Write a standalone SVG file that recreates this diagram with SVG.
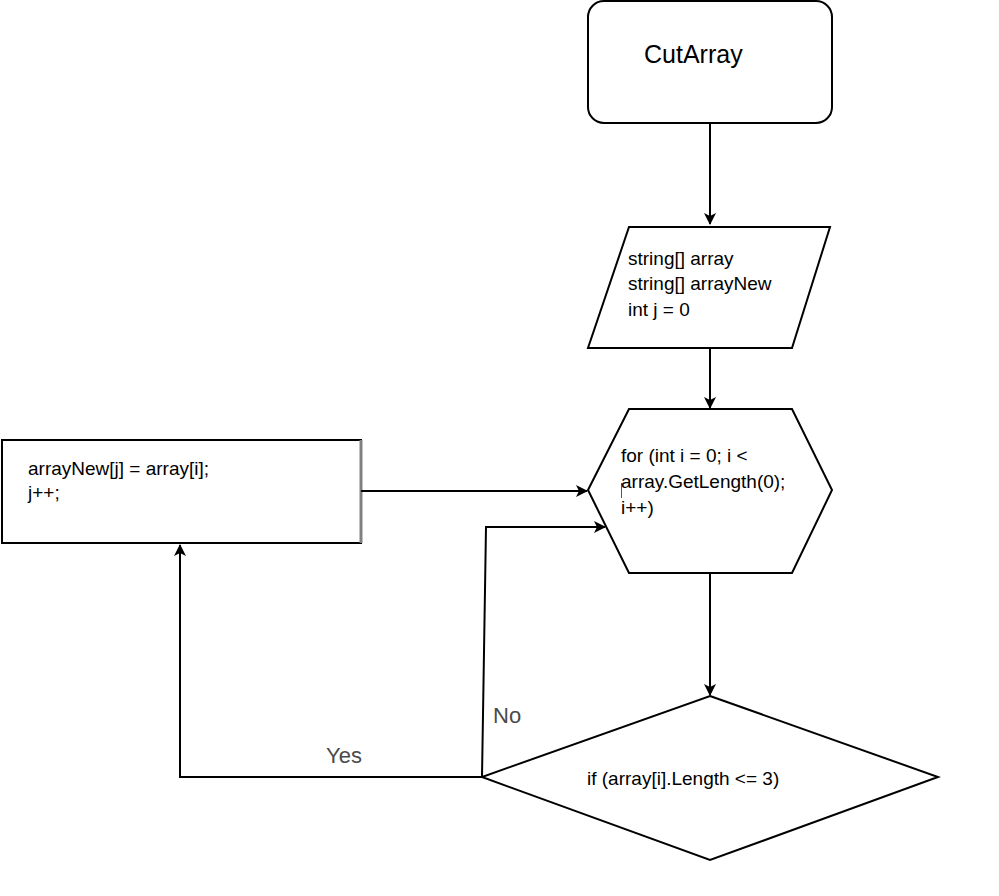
<svg xmlns="http://www.w3.org/2000/svg" width="999" height="896" viewBox="0 0 999 896">
  <style>
    .shape { fill: #ffffff; stroke: #000000; stroke-width: 2; }
    .txt { font-family: "Liberation Sans", Arial, sans-serif; font-size: 19px; fill: #000000; }
    .title { font-family: "Liberation Sans", Arial, sans-serif; font-size: 25px; fill: #000000; }
    .lbl { font-family: "Liberation Sans", Arial, sans-serif; font-size: 22px; fill: #4a4a4a; }
    .conn { fill: none; stroke: #000000; stroke-width: 2; }
  </style>
  <defs>
    <marker id="arrow" viewBox="0 0 12 12" refX="11" refY="6" markerWidth="12" markerHeight="12" markerUnits="userSpaceOnUse" orient="auto">
      <path d="M0,0 L12,6 L0,12 L3,6 z" fill="#000000"/>
    </marker>
  </defs>
  <rect width="999" height="896" fill="#ffffff"/>

  <!-- start terminal -->
  <g id="start">
    <rect class="shape" x="588" y="1" width="244" height="122" rx="16" ry="16"/>
    <text class="title" x="644" y="63">CutArray</text>
  </g>

  <!-- variable declarations -->
  <g id="declare">
    <polygon class="shape" points="629,227 830,227 792,348 588,348"/>
    <text class="txt" x="628" y="265">string[] array</text>
    <text class="txt" x="628" y="290">string[] arrayNew</text>
    <text class="txt" x="628" y="316">int j = 0</text>
  </g>

  <!-- loop header -->
  <g id="loop">
    <polygon class="shape" points="629,409 792,409 832,490 792,573 629,573 588,490"/>
    <text class="txt" x="621" y="462">for (int i = 0; i &lt;</text>
    <line x1="621.5" y1="483" x2="621.5" y2="498" stroke="#555555" stroke-width="1"/>
    <text class="txt" x="621" y="488">array.GetLength(0);</text>
    <text class="txt" x="621" y="514">i++)</text>
  </g>

  <!-- assignment block -->
  <g id="assign">
    <rect class="shape" x="2" y="440" width="359" height="103"/>
    <line x1="361" y1="440" x2="361" y2="543" stroke="#808080" stroke-width="3"/>
    <text class="txt" x="28" y="475">arrayNew[j] = array[i];</text>
    <text class="txt" x="28" y="499">j++;</text>
  </g>

  <!-- length condition -->
  <g id="condition">
    <polygon class="shape" points="710,696 938,777 710,860 482,777"/>
    <text class="txt" x="587" y="785">if (array[i].Length &lt;= 3)</text>
  </g>

  <!-- connectors -->
  <g id="connectors">
    <path class="conn" d="M710,123 V224" marker-end="url(#arrow)"/>
    <path class="conn" d="M710,348 V408" marker-end="url(#arrow)"/>
    <path class="conn" d="M710,573 V695" marker-end="url(#arrow)"/>
    <path class="conn" d="M361,491 H587" marker-end="url(#arrow)"/>
    <path class="conn" d="M482,777 L486,527 H605" marker-end="url(#arrow)"/>
    <path class="conn" d="M482,777 H180 V545" marker-end="url(#arrow)"/>
    <text class="lbl" x="493" y="723">No</text>
    <text class="lbl" x="326" y="763">Yes</text>
  </g>
</svg>
